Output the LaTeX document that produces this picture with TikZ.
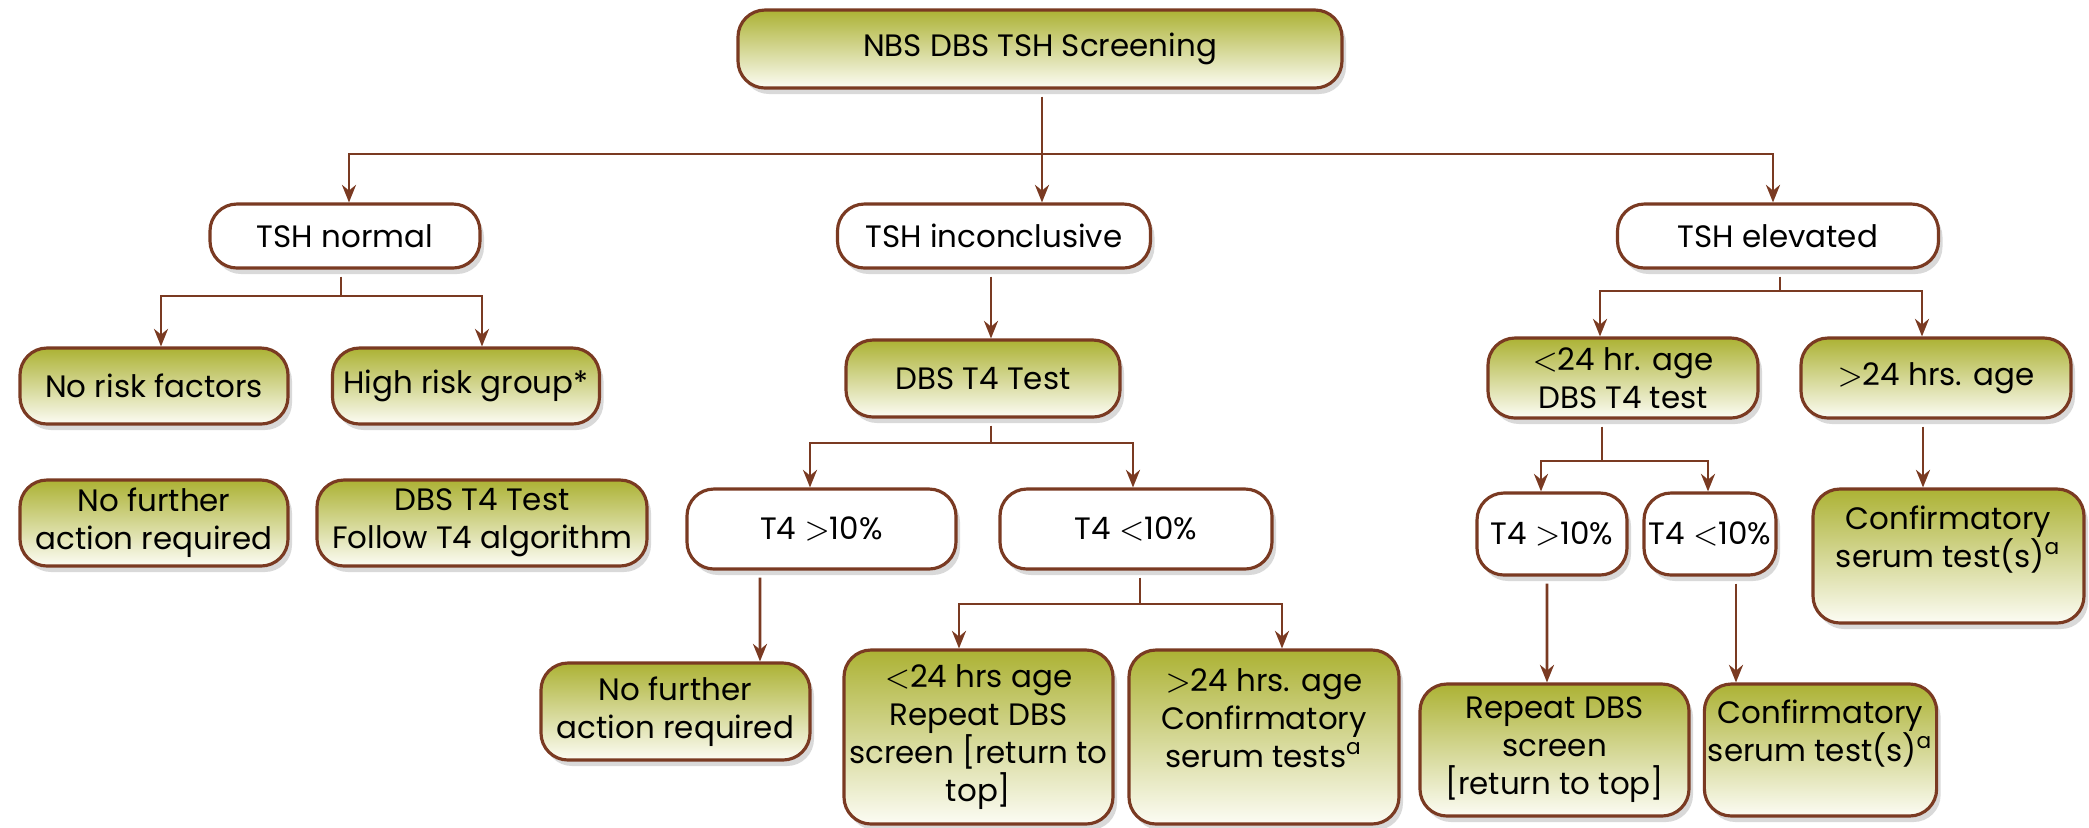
\documentclass[tikz,border=0pt]{standalone}
\usepackage{fontspec}
\setmainfont{Poppins}
\usetikzlibrary{arrows.meta,shadows}

\definecolor{nbsbrown}{RGB}{122,58,34}
\definecolor{nbsolive}{RGB}{172,178,52}
\definecolor{nbscream}{RGB}{252,252,244}

\tikzset{
  box/.style={draw=nbsbrown, line width=0.9pt, rounded corners=0.27cm, align=center,
    inner sep=1pt, font=\fontsize{8.8}{10.8}\selectfont,
    drop shadow={shadow xshift=0.04cm, shadow yshift=-0.06cm, opacity=0.3}},
  greenbox/.style={box, top color=nbsolive, bottom color=nbscream},
  whitebox/.style={box, fill=white},
  line/.style={draw=nbsbrown, line width=0.8pt},
  arr/.style={line, -{Stealth[length=5pt,width=4pt]}},
}

\begin{document}
\begin{tikzpicture}
  \useasboundingbox (0,0) rectangle (20.89,-8.27);

  % screening
  \node[greenbox, minimum width=6.04cm, minimum height=0.78cm] (top) at (10.40,-0.49) {NBS DBS TSH Screening};

  % TSH results
  \node[whitebox, minimum width=2.70cm, minimum height=0.64cm] (norm) at (3.45,-2.36) {TSH normal};
  \node[whitebox, minimum width=3.13cm, minimum height=0.64cm] (inc) at (9.94,-2.36) {TSH inconclusive};
  \node[whitebox, minimum width=3.21cm, minimum height=0.64cm] (elev) at (17.78,-2.36) {TSH elevated};

  % TSH normal
  \node[greenbox, minimum width=2.68cm, minimum height=0.76cm] (nrf) at (1.54,-3.86) {No risk factors};
  \node[greenbox, minimum width=2.67cm, minimum height=0.76cm] (hrg) at (4.66,-3.86) {High risk group*};
  \node[greenbox, minimum width=2.68cm, minimum height=0.86cm] (nfa1) at (1.54,-5.23) {No further\\action required};
  \node[greenbox, minimum width=3.30cm, minimum height=0.86cm] (alg) at (4.82,-5.23) {DBS T4 Test\\Follow T4 algorithm};

  % TSH inconclusive
  \node[greenbox, minimum width=2.74cm, minimum height=0.77cm] (dbs) at (9.83,-3.785) {DBS T4 Test};
  \node[whitebox, minimum width=2.69cm, minimum height=0.80cm] (thi) at (8.215,-5.29) {T4 $>$10\%};
  \node[whitebox, minimum width=2.72cm, minimum height=0.80cm] (tlo) at (11.36,-5.29) {T4 $<$10\%};
  \node[greenbox, minimum width=2.69cm, minimum height=0.97cm] (nfa2) at (6.755,-7.115) {No further\\action required};
  \node[greenbox, minimum width=2.69cm, minimum height=1.74cm] (rep1) at (9.785,-7.37) {$<$24 hrs age\\Repeat DBS\\screen [return to\\top]};
  \node[greenbox, minimum width=2.70cm, minimum height=1.74cm] (conf1) at (12.64,-7.37) {$>$24 hrs. age\\Confirmatory\\serum tests\textsuperscript{a}\\~};

  % TSH elevated
  \node[greenbox, minimum width=2.70cm, minimum height=0.80cm] (lt24) at (16.23,-3.78) {$<$24 hr. age\\DBS T4 test};
  \node[greenbox, minimum width=2.70cm, minimum height=0.80cm] (gt24) at (19.36,-3.78) {$>$24 hrs. age};
  \node[whitebox, minimum width=1.50cm, minimum height=0.82cm] (thi2) at (15.52,-5.34) {T4 $>$10\%};
  \node[whitebox, minimum width=1.32cm, minimum height=0.82cm] (tlo2) at (17.10,-5.34) {T4 $<$10\%};
  \node[greenbox, minimum width=2.71cm, minimum height=1.34cm] (conf3) at (19.485,-5.56) {Confirmatory\\serum test(s)\textsuperscript{a}\\~};
  \node[greenbox, minimum width=2.69cm, minimum height=1.32cm] (rep2) at (15.545,-7.50) {Repeat DBS\\screen\\{}[return to top]};
  \node[greenbox, minimum width=2.25cm, minimum height=1.32cm] (conf2) at (18.205,-7.50) {Confirmatory\\serum test(s)\textsuperscript{a}\\~};

  % top fork
  \coordinate (f0) at (10.42,-1.54);
  \draw[line, shorten <=2pt] (top.south -| f0) -- (f0);
  \draw[arr] (f0) -| ([xshift=0.04cm]norm.north);
  \draw[arr] (f0) -- (f0 |- inc.north);
  \draw[arr] (f0) -| ([xshift=-0.05cm]elev.north);

  % normal fork
  \coordinate (f1) at (3.41,-2.96);
  \draw[line, shorten <=2pt] (norm.south -| f1) -- (f1);
  \draw[arr] (f1) -| ([xshift=0.07cm]nrf.north);
  \draw[arr] (f1) -| ([xshift=0.16cm]hrg.north);

  % inconclusive
  \draw[arr, shorten <=2pt] ([xshift=-0.03cm]inc.south) -- ([xshift=-0.03cm]inc.south |- dbs.north);
  \coordinate (f2) at (9.91,-4.43);
  \draw[line, shorten <=2pt] (dbs.south -| f2) -- (f2);
  \draw[arr] (f2) -| ([xshift=-0.115cm]thi.north);
  \draw[arr] (f2) -| ([xshift=-0.03cm]tlo.north);
  \draw[arr, shorten <=2pt] ([xshift=-0.615cm]thi.south) -- ([xshift=0.845cm]nfa2.north);
  \coordinate (f3) at (11.40,-6.04);
  \draw[line, shorten <=2pt] (tlo.south -| f3) -- (f3);
  \draw[arr] (f3) -| ([xshift=-0.195cm]rep1.north);
  \draw[arr] (f3) -| ([xshift=0.18cm]conf1.north);

  % elevated
  \coordinate (f4) at (17.80,-2.91);
  \draw[line, shorten <=2pt] (elev.south -| f4) -- (f4);
  \draw[arr] (f4) -| ([xshift=-0.23cm]lt24.north);
  \draw[arr] (f4) -| ([xshift=-0.14cm]gt24.north);
  \coordinate (f5) at (16.02,-4.61);
  \draw[line, shorten <=2pt] (lt24.south -| f5) -- (f5);
  \draw[arr] (f5) -| ([xshift=-0.11cm]thi2.north);
  \draw[arr] (f5) -| ([xshift=-0.02cm]tlo2.north);
  \draw[arr, shorten <=2pt] ([xshift=-0.05cm]thi2.south) -- ([xshift=-0.075cm]rep2.north);
  \draw[arr, shorten <=2pt] ([xshift=0.26cm]tlo2.south) -- ([xshift=-0.845cm]conf2.north);
  \draw[arr, shorten <=2pt] ([xshift=-0.13cm]gt24.south) -- ([xshift=-0.255cm]conf3.north);
\end{tikzpicture}
\end{document}
